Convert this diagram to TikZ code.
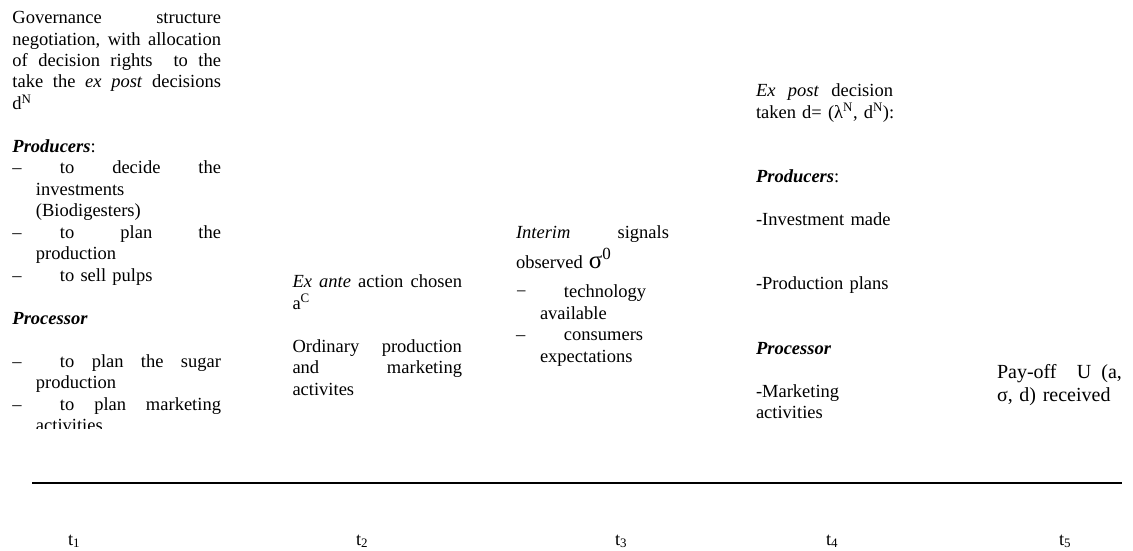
\documentclass[tikz,border=0pt]{standalone}
\usepackage{fontspec}
\setmainfont{Liberation Serif}
\newcommand{\jline}[2]{\makebox[#1][s]{#2}}
\newcommand{\itemdash}{\makebox[47.5pt][l]{–}}
\newcommand{\contind}{\hspace*{23.5pt}}
\begin{document}
\begin{tikzpicture}[x=1pt,y=-1pt,
  blk/.style={anchor=base west, inner sep=0pt, outer sep=0pt, align=left,
    font=\fontsize{18.5}{21.5}\selectfont},
  payoff/.style={anchor=base west, inner sep=0pt, outer sep=0pt, align=left,
    font=\fontsize{20}{23}\selectfont},
  tlab/.style={anchor=base west, inner sep=0pt, outer sep=0pt,
    font=\fontsize{18.5}{20}\selectfont},
  axisline/.style={line width=2pt, draw=black}]
\useasboundingbox (0,0) rectangle (1133,551);

% Block 1 (t1), clipped at bottom
\begin{scope}
\clip (0,0) rectangle (260,428);
\node[blk, text width=210pt] (b1) at (12.5,23.5) {%
\jline{208.5pt}{Governance\hfill structure}\\
\jline{208.5pt}{negotiation,\hfill with\hfill allocation}\\
\jline{208.5pt}{of\hfill decision\hfill rights\hfill\hfill to\hfill the}\\
\jline{208.5pt}{take\hfill the\hfill \textit{ex}\hfill\textit{post}\hfill decisions}\\
d\textsuperscript{N}\\[21.5pt]
\textbf{\textit{Producers}}:\\
\itemdash\jline{161pt}{to\hfill decide\hfill the}\\
\contind investments\\
\contind (Biodigesters)\\
\itemdash\jline{161pt}{to\hfill plan\hfill the}\\
\contind production\\
\itemdash to sell pulps\\[21.5pt]
\textbf{\textit{Processor}}\\[21.5pt]
\itemdash\jline{161pt}{to\hfill plan\hfill the\hfill sugar}\\
\contind production\\
\itemdash\jline{161pt}{to\hfill plan\hfill marketing}\\
\contind activities};
\end{scope}

% Block 2 (t2)
\node[blk, text width=171pt] (b2) at (292.5,287.5) {%
\jline{169.5pt}{\textit{Ex}\hfill\textit{ante}\hfill action\hfill chosen}\\
a\textsuperscript{C}\\[21.5pt]
\jline{169.5pt}{Ordinary\hfill production}\\
\jline{169.5pt}{and\hfill marketing}\\
activites};

% Block 3 (t3)
\node[blk, text width=155pt] (b3) at (516,238.5) {%
\jline{153pt}{\textit{Interim}\hfill signals}\\[8.5pt]
observed \smash{{\fontsize{25}{25}\selectfont σ}\raisebox{9pt}{\fontsize{17}{17}\selectfont 0}}\\[7.5pt]
\makebox[48pt][l]{−}technology\\
\hspace*{24pt}available\\
\makebox[48pt][l]{–}consumers\\
\hspace*{24pt}expectations};

% Block 4 (t4)
\node[blk, text width=139pt] (b4) at (756,96.5) {%
\jline{137pt}{\textit{Ex}\hfill\textit{post}\hfill decision}\\
taken d= (λ\textsuperscript{N}, d\textsuperscript{N}):\\[43pt]
\textbf{\textit{Producers}}:\\[21.5pt]
-Investment made\\[43pt]
-Production plans\\[43pt]
\textbf{\textit{Processor}}\\[21.5pt]
-Marketing\\
activities};

% Block 5 (t5)
\node[payoff, text width=127pt] (b5) at (997,378) {%
\jline{125pt}{Pay-off\hfill\hfill U\hfill (a,}\\
σ, d) received};

% Time axis
\coordinate (axL) at (32,483);
\coordinate (axR) at (1122,483);
\draw[axisline] (axL) -- (axR);

\node[tlab] (t1) at (68,545) {t\textsubscript{1}};
\node[tlab] (t2) at (356,545) {t\textsubscript{2}};
\node[tlab] (t3) at (615,545) {t\textsubscript{3}};
\node[tlab] (t4) at (826,545) {t\textsubscript{4}};
\node[tlab] (t5) at (1059,545) {t\textsubscript{5}};
\end{tikzpicture}
\end{document}
